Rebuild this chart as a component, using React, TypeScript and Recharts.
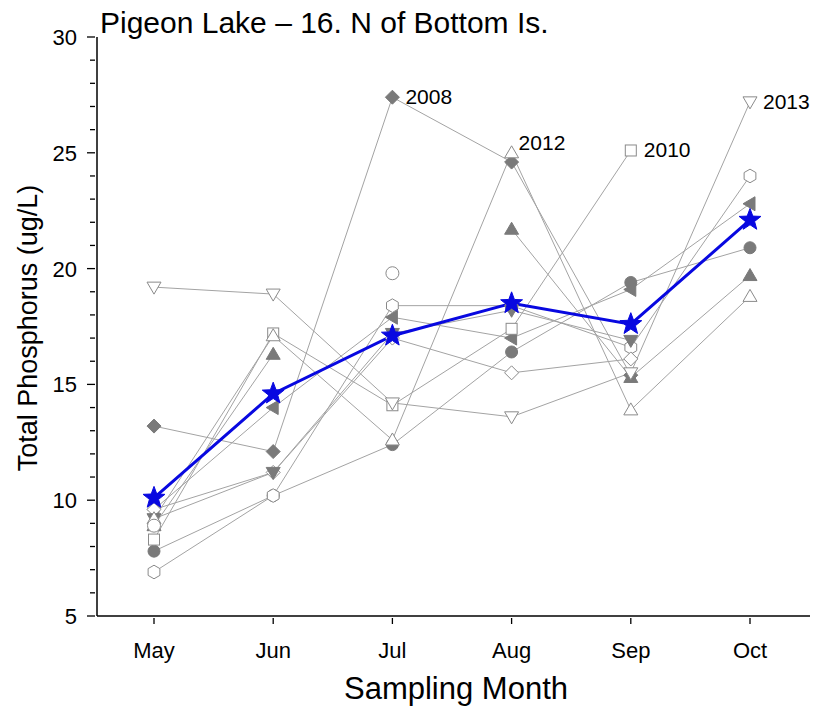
import React from 'react';
import { LineChart, Line, XAxis, YAxis } from 'recharts';

const months = ['May', 'Jun', 'Jul', 'Aug', 'Sep', 'Oct'];

const y2008 = [13.2, 12.1, 27.4, 24.6, 15.4, null];
const y2010 = [8.3, 17.2, 14.1, 17.4, 25.1, null];
const y2012 = [9.2, 17.1, 12.6, 25.0, 13.9, 18.8];
const y2013 = [19.2, 18.9, 14.2, 13.6, 15.5, 27.2];
const yCircleFilled = [7.8, 10.2, 12.4, 16.4, 19.4, 20.9];
const yHexagon = [6.9, 10.2, 18.4, 18.4, 16.6, 24.0];
const yTriUpFilled = [8.9, 16.3, null, 21.7, 15.3, 19.7];
const yTriLeftFilled = [9.6, 14.0, 17.9, 17.0, 19.1, 22.8];
const yDiamondHollow = [9.6, 11.2, 17.0, 15.5, 16.1, null];
const yTriDownFilled = [9.2, 11.2, 17.2, 18.2, 16.9, null];
const yCircleHollow = [8.9, null, 19.8, null, null, null];
const meanTP = [10.1, 14.6, 17.1, 18.5, 17.6, 22.1];

const yTicks = [5, 6, 7, 8, 9, 10, 11, 12, 13, 14, 15, 16, 17, 18, 19, 20, 21, 22, 23, 24, 25, 26, 27, 28, 29, 30];
const yMajor = [5, 10, 15, 20, 25, 30];

const series = [
  { key: 'cf', values: yCircleFilled, shape: 'circle', filled: true },
  { key: 'tu', values: yTriUpFilled, shape: 'triUp', filled: true },
  { key: 'tl', values: yTriLeftFilled, shape: 'triLeft', filled: true },
  { key: 'hx', values: yHexagon, shape: 'hex', filled: false },
  { key: 'dh', values: yDiamondHollow, shape: 'diamond', filled: false },
  { key: 'td', values: yTriDownFilled, shape: 'triDown', filled: true },
  { key: 'y2008', values: y2008, shape: 'diamond', filled: true, label: '2008', labelIndex: 2 },
  { key: 'y2010', values: y2010, shape: 'square', filled: false, label: '2010', labelIndex: 4 },
  { key: 'y2012', values: y2012, shape: 'triUp', filled: false, label: '2012', labelIndex: 3 },
  { key: 'y2013', values: y2013, shape: 'triDown', filled: false, label: '2013', labelIndex: 5 },
  { key: 'ch', values: yCircleHollow, shape: 'circle', filled: false },
];

const data = months.map((m, i) => {
  const row: any = { month: m, mean: meanTP[i] };
  series.forEach((s) => {
    row[s.key] = s.values[i];
  });
  return row;
});

const FONT = '"Liberation Sans", Arial, sans-serif';
const GRAY_FILL = '#7a7a7a';
const GRAY_STROKE = '#8a8a8a';
const LINE_GRAY = '#a3a3a3';
const BLUE = '#0808e0';

function markerShape(shape: string, cx: number, cy: number, filled: boolean, key: any) {
  const fill = filled ? GRAY_FILL : '#ffffff';
  const stroke = filled ? GRAY_FILL : GRAY_STROKE;
  const r = 6.8;
  const common = { fill, stroke, strokeWidth: 1 };
  switch (shape) {
    case 'circle':
      return <circle key={key} cx={cx} cy={cy} r={filled ? 6 : 6.5} {...common} />;
    case 'square':
      return <rect key={key} x={cx - 5.5} y={cy - 5.5} width={11} height={11} {...common} />;
    case 'diamond':
      return <polygon key={key} points={`${cx},${cy - 7} ${cx + 7},${cy} ${cx},${cy + 7} ${cx - 7},${cy}`} {...common} />;
    case 'triUp':
      return <polygon key={key} points={`${cx},${cy - 7} ${cx + 7},${cy + 5} ${cx - 7},${cy + 5}`} {...common} />;
    case 'triDown':
      return <polygon key={key} points={`${cx},${cy + 7} ${cx + 7},${cy - 5} ${cx - 7},${cy - 5}`} {...common} />;
    case 'triLeft':
      return <polygon key={key} points={`${cx - 7},${cy} ${cx + 5},${cy - 7} ${cx + 5},${cy + 7}`} {...common} />;
    case 'hex': {
      const pts: string[] = [];
      for (let k = 0; k < 6; k++) {
        const a = (Math.PI / 3) * k + Math.PI / 6;
        pts.push(`${cx + r * Math.cos(a)},${cy + r * Math.sin(a)}`);
      }
      return <polygon key={key} points={pts.join(' ')} {...common} />;
    }
    default:
      return <g key={key} />;
  }
}

function starPoints(cx: number, cy: number, R: number, r: number) {
  const pts: string[] = [];
  for (let k = 0; k < 10; k++) {
    const rad = k % 2 === 0 ? R : r;
    const a = -Math.PI / 2 + (Math.PI / 5) * k;
    pts.push(`${cx + rad * Math.cos(a)},${cy + rad * Math.sin(a)}`);
  }
  return pts.join(' ');
}

const YTick = (props: any) => {
  const { x, y, payload } = props;
  const v = payload.value;
  const major = yMajor.includes(v);
  return (
    <g>
      <line x1={x} x2={x - (major ? 8 : 5)} y1={y} y2={y} stroke="#000" strokeWidth={1.3} />
      {major && (
        <text x={x - 18} y={y + 8} textAnchor="end" fontSize={22} fontFamily={FONT} fill="#000">
          {v}
        </text>
      )}
    </g>
  );
};

const XTick = (props: any) => {
  const { x, y, payload } = props;
  return (
    <g>
      <line x1={x} x2={x} y1={y} y2={y + 6} stroke="#000" strokeWidth={1.3} />
      <text x={x} y={y + 40} textAnchor="middle" fontSize={22} fontFamily={FONT} fill="#000">
        {payload.value}
      </text>
    </g>
  );
};

export default function App() {
  return (
    <div style={{ position: 'absolute', left: 0, top: 0, width: 814, height: 707, background: '#fff' }}>
      <LineChart
        width={814}
        height={707}
        data={data}
        margin={{ top: 37, right: 4, bottom: 31, left: 0 }}
      >
        <XAxis
          dataKey="month"
          type="category"
          height={60}
          padding={{ left: 57, right: 60 }}
          axisLine={{ stroke: '#000', strokeWidth: 1.5 }}
          tickLine={false}
          tickSize={0}
          tick={<XTick />}
          interval={0}
        />
        <YAxis
          type="number"
          domain={[5, 30]}
          ticks={yTicks}
          width={97}
          interval={0}
          axisLine={{ stroke: '#000', strokeWidth: 1.5 }}
          tickLine={false}
          tickSize={0}
          tick={<YTick />}
          allowDataOverflow
        />
        {series.map((s) => (
          <Line
            key={s.key}
            dataKey={s.key}
            stroke={LINE_GRAY}
            strokeWidth={1}
            isAnimationActive={false}
            connectNulls={false}
            dot={(p: any) => {
              if (p.cx == null || p.cy == null || p.value == null) return <g key={`${s.key}-${p.index}`} />;
              return markerShape(s.shape, p.cx, p.cy, s.filled, `${s.key}-${p.index}`);
            }}
            activeDot={false}
            label={(p: any) => {
              if (!s.label || p.index !== s.labelIndex || p.value == null) return <g key={`l-${s.key}-${p.index}`} />;
              const dy = s.label === '2012' ? -3 : 7;
              const dx = s.label === '2012' ? 7 : 13;
              return (
                <text key={`l-${s.key}-${p.index}`} x={p.x + dx} y={p.y + dy} fontSize={21} fontFamily={FONT} fill="#000">
                  {s.label}
                </text>
              );
            }}
          />
        ))}
        <Line
          dataKey="mean"
          stroke={BLUE}
          strokeWidth={3}
          isAnimationActive={false}
          activeDot={false}
          dot={(p: any) => (
            <polygon
              key={`m-${p.index}`}
              points={starPoints(p.cx, p.cy, 11.5, 4.8)}
              fill={BLUE}
              stroke={BLUE}
              strokeWidth={1}
            />
          )}
        />
      </LineChart>
      <svg
        width={814}
        height={707}
        style={{ position: 'absolute', left: 0, top: 0, pointerEvents: 'none' }}
      >
        <text x={100} y={33} fontSize={30} fontFamily={FONT} fill="#000">
          Pigeon Lake – 16. N of Bottom Is.
        </text>
        <text
          transform="translate(37,328) rotate(-90)"
          textAnchor="middle"
          fontSize={27}
          fontFamily={FONT}
          fill="#000"
        >
          Total Phosphorus (ug/L)
        </text>
        <text x={456} y={699} textAnchor="middle" fontSize={31} fontFamily={FONT} fill="#000">
          Sampling Month
        </text>
      </svg>
    </div>
  );
}
